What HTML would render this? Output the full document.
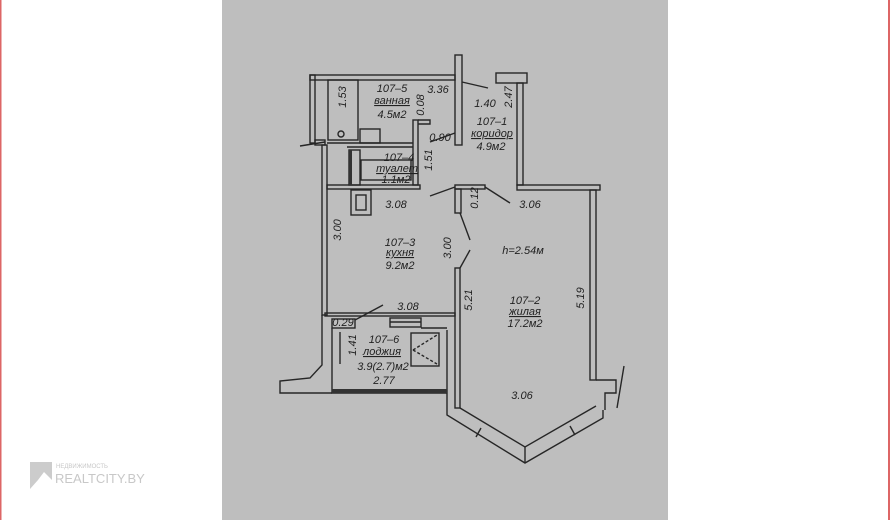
<!DOCTYPE html>
<html><head><meta charset="utf-8"><style>
body{margin:0;width:890px;height:520px;background:#fff;overflow:hidden;position:relative}
svg{position:absolute;left:0;top:0}
text{font-family:"Liberation Sans","DejaVu Sans",sans-serif;font-size:11px;fill:#222;font-style:italic;text-anchor:middle}
</style></head><body>
<svg width="890" height="520" viewBox="0 0 890 520">
<rect x="0" y="0" width="1.5" height="520" fill="#d66"/>
<rect x="888" y="0" width="2" height="520" fill="#d66"/>
<rect x="222" y="0" width="446" height="520" fill="#bebebe"/>
<g fill="none" stroke="#262626" stroke-width="1.4">
<rect x="310" y="75" width="145" height="5"/>
<rect x="455" y="55" width="7" height="90"/>
<rect x="310" y="75" width="5" height="68"/>
<polyline points="300,146 325,142"/>
<rect x="322" y="145" width="5" height="170"/>
<rect x="315" y="140" width="10" height="5"/>
<rect x="327" y="185" width="93" height="4"/>
<rect x="413" y="120" width="5" height="65"/>
<polyline points="418,120 430,120 430,124 418,124"/>
<rect x="328" y="80" width="30" height="60"/>
<rect x="360" y="129" width="20" height="14"/>
<circle cx="341" cy="134" r="3"/>
<rect x="349" y="150" width="11" height="35"/>
<rect x="361" y="160" width="50" height="20"/>
<rect x="351" y="190" width="20" height="25"/>
<rect x="356" y="195" width="10" height="15"/>
<line x1="327" y1="143" x2="413" y2="143"/>
<line x1="347" y1="147" x2="413" y2="147"/>
<rect x="496" y="73" width="31" height="10"/>
<rect x="517" y="83" width="6" height="102"/>
<rect x="517" y="185" width="83" height="5"/>
<rect x="590" y="190" width="6" height="190"/>
<polyline points="596,380 616,380 616,393 605,393 605,410"/>
<line x1="624" y1="366" x2="617" y2="408"/>
<rect x="455" y="185" width="30" height="4"/>
<rect x="455" y="189" width="6" height="24"/>
<rect x="455" y="268" width="5" height="140"/>
<polyline points="447,330 447,415 525,463 603,418 603,410"/>
<polyline points="460,408 525,447 596,406"/>
<line x1="481" y1="428" x2="476" y2="437"/>
<line x1="570" y1="426" x2="575" y2="435"/>
<line x1="525" y1="447" x2="525" y2="463"/>
<rect x="325" y="313" width="130" height="3"/>
<rect x="390" y="318" width="31" height="9"/>
<line x1="390" y1="322" x2="421" y2="322"/>
<polyline points="332,328 332,393 447,393"/>
<line x1="421" y1="328" x2="447" y2="328"/>
<rect x="411" y="333" width="28" height="33"/>
<line x1="413" y1="350" x2="437" y2="335" stroke-dasharray="3 2"/>
<line x1="413" y1="350" x2="437" y2="364" stroke-dasharray="3 2"/>
<rect x="332" y="319" width="23" height="9"/>
<line x1="355" y1="320" x2="383" y2="305"/>
<line x1="340" y1="332" x2="340" y2="364"/>
<polyline points="322,315 322,365 310,378 280,381 280,393 332,393"/>
<line x1="462" y1="82" x2="488" y2="88"/>
<line x1="430" y1="142" x2="455" y2="133"/>
<line x1="430" y1="196" x2="455" y2="187"/>
<line x1="485" y1="187" x2="510" y2="203"/>
<line x1="460" y1="213" x2="470" y2="240"/>
<line x1="470" y1="250" x2="460" y2="268"/>
</g>
<rect x="332" y="389" width="115" height="4" fill="#333"/>
<rect x="349" y="150" width="3" height="35" fill="#333"/>
<g>
<text x="392" y="92">107–5</text>
<text x="392" y="104" text-decoration="underline">ванная</text>
<text x="392" y="118">4.5м2</text>
<text x="438" y="93">3.36</text>
<text x="485" y="107">1.40</text>
<text x="440" y="141">0.90</text>
<text x="492" y="125">107–1</text>
<text x="492" y="137" text-decoration="underline">коридор</text>
<text x="491" y="150">4.9м2</text>
<text x="399" y="161">107–4</text>
<text x="397" y="172" text-decoration="underline">туалет</text>
<text x="396" y="183">1.1м2</text>
<text x="396" y="208">3.08</text>
<text x="530" y="208">3.06</text>
<text x="400" y="246">107–3</text>
<text x="400" y="256" text-decoration="underline">кухня</text>
<text x="400" y="269">9.2м2</text>
<text x="523" y="254">h=2.54м</text>
<text x="525" y="304">107–2</text>
<text x="525" y="315" text-decoration="underline">жилая</text>
<text x="525" y="327">17.2м2</text>
<text x="408" y="310">3.08</text>
<text x="343" y="326">0.29</text>
<text x="384" y="343">107–6</text>
<text x="382" y="355" text-decoration="underline">лоджия</text>
<text x="383" y="370">3.9(2.7)м2</text>
<text x="384" y="384">2.77</text>
<text x="522" y="399">3.06</text>
<text transform="translate(346,97) rotate(-90)">1.53</text>
<text transform="translate(512,97) rotate(-90)">2.47</text>
<text transform="translate(424,105) rotate(-90)">0.08</text>
<text transform="translate(432,160) rotate(-90)">1.51</text>
<text transform="translate(478,198) rotate(-90)">0.12</text>
<text transform="translate(341,230) rotate(-90)">3.00</text>
<text transform="translate(451,248) rotate(-90)">3.00</text>
<text transform="translate(472,300) rotate(-90)">5.21</text>
<text transform="translate(584,298) rotate(-90)">5.19</text>
<text transform="translate(356,345) rotate(-90)">1.41</text>
</g>
<polygon points="30,462 52,462 52,480 44,472 38,480 30,489" fill="#ccc"/>
<text x="56" y="468" style="font-size:6px;fill:#c8c8c8;font-style:normal;text-anchor:start">НЕДВИЖИМОСТЬ</text>
<text x="55" y="483" style="font-size:13px;fill:#c8c8c8;font-style:normal;text-anchor:start">REALTCITY.BY</text>
</svg>
</body></html>
